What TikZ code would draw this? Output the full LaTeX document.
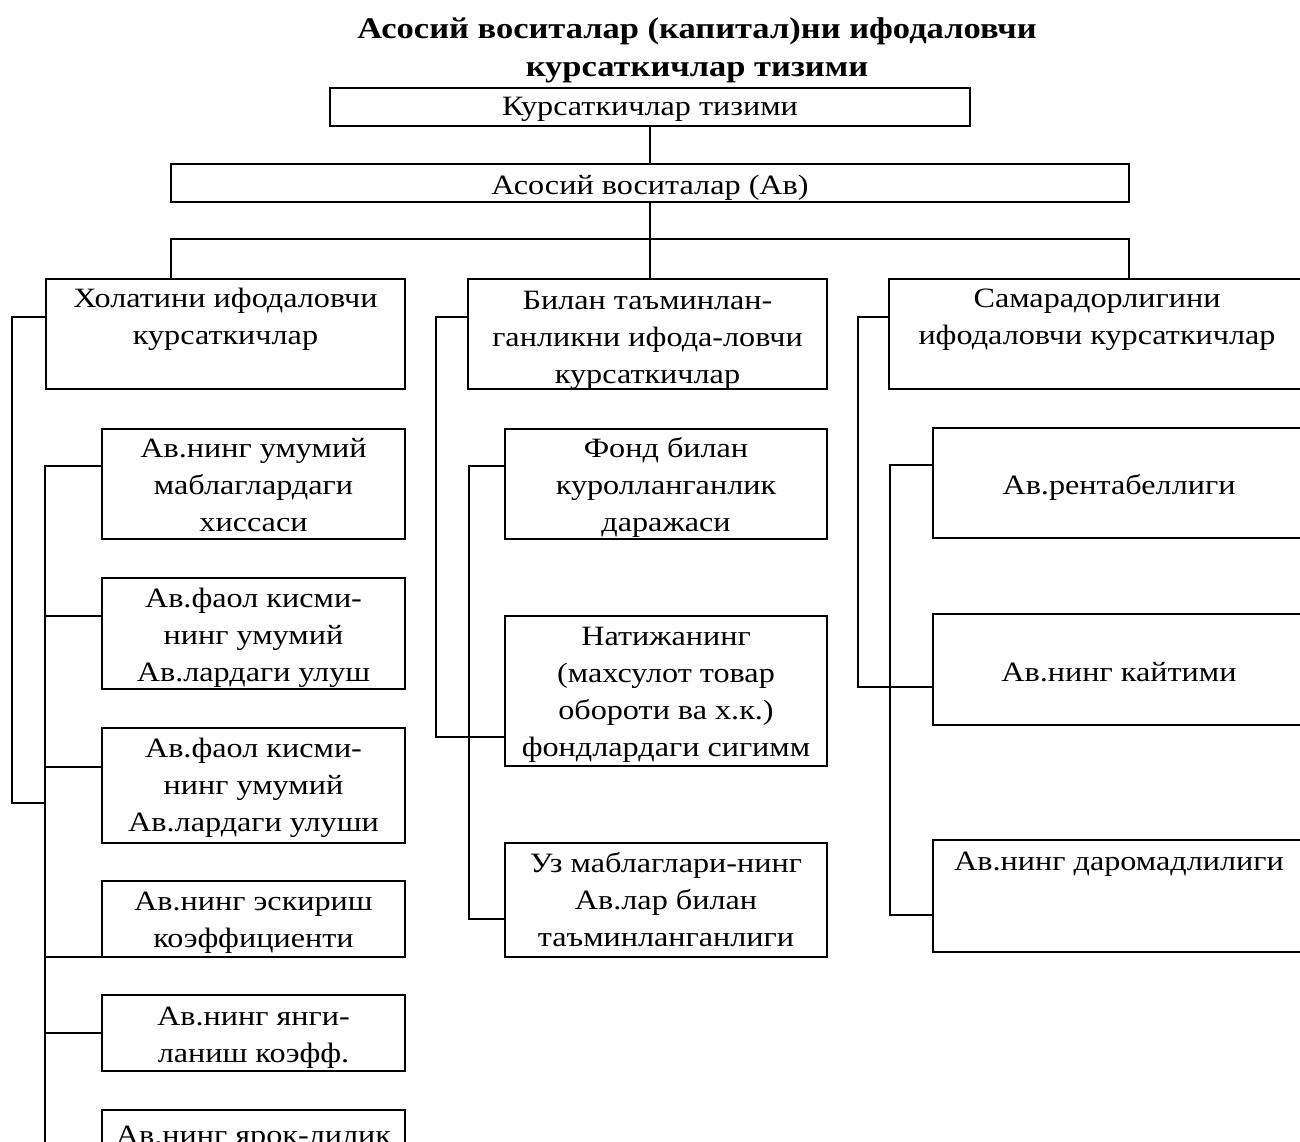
\documentclass[tikz,border=0pt]{standalone}
\usepackage{fontspec}
\setmainfont{Liberation Serif}[FakeStretch=1.15]
\usetikzlibrary{positioning}

\tikzset{
  box/.style={draw, line width=2.5pt, inner sep=0pt, outer sep=0pt, anchor=north west},
  txt/.style={align=center, inner sep=0pt, anchor=base, font=\fontsize{28}{36.7}\selectfont},
  ttl/.style={align=center, inner sep=0pt, anchor=base, font=\bfseries\fontsize{30}{38}\selectfont},
  link/.style={line width=2.5pt}
}

\begin{document}
\begin{tikzpicture}[x=1pt, y=-1pt]
\useasboundingbox (0,0) rectangle (1300,1142);
\clip (0,0) rectangle (1300,1142);

% --- Title (base = last line) ---
\node[ttl] (title) at (697,77) {Асосий воситалар (капитал)ни ифодаловчи\\курсаткичлар тизими};

% --- Top levels ---
\node[box, minimum width=640pt, minimum height=38pt] (sys) at (330,88) {};
\node[txt] (sys-t) at ([yshift=-28pt]sys.north) {Курсаткичлар тизими};
\node[box, minimum width=958pt, minimum height=38pt] (av) at (171,164) {};
\node[txt] (av-t) at ([yshift=-30pt]av.north) {Асосий воситалар (Ав)};

% --- Three groups ---
\node[box, minimum width=359pt, minimum height=110pt] (hol) at (46,279) {};
\node[txt] (hol-t) at ([yshift=-65pt]hol.north) {Холатини ифодаловчи\\курсаткичлар};
\node[box, minimum width=359pt, minimum height=110pt] (bil) at (468,279) {};
\node[txt] (bil-t) at ([yshift=-104pt]bil.north) {Билан таъминлан-\\ганликни ифода-ловчи\\курсаткичлар};
\node[box, minimum width=416pt, minimum height=110pt] (sam) at (889,279) {};
\node[txt] (sam-t) at ([yshift=-65pt]sam.north) {Самарадорлигини\\ифодаловчи курсаткичлар};

% --- Column 1 ---
\node[box, minimum width=303pt, minimum height=110pt] (c1a) at (102,429) {};
\node[txt] (c1a-t) at ([yshift=-102pt]c1a.north) {Ав.нинг умумий\\маблаглардаги\\хиссаси};
\node[box, minimum width=303pt, minimum height=111pt] (c1b) at (102,578) {};
\node[txt] (c1b-t) at ([yshift=-103pt]c1b.north) {Ав.фаол кисми-\\нинг умумий\\Ав.лардаги улуш};
\node[box, minimum width=303pt, minimum height=115pt] (c1c) at (102,728) {};
\node[txt] (c1c-t) at ([yshift=-103pt]c1c.north) {Ав.фаол кисми-\\нинг умумий\\Ав.лардаги улуши};
\node[box, minimum width=303pt, minimum height=76pt] (c1d) at (102,881) {};
\node[txt] (c1d-t) at ([yshift=-66pt]c1d.north) {Ав.нинг эскириш\\коэффициенти};
\node[box, minimum width=303pt, minimum height=76pt] (c1e) at (102,995) {};
\node[txt] (c1e-t) at ([yshift=-67pt]c1e.north) {Ав.нинг янги-\\ланиш коэфф.};
\node[box, minimum width=303pt, minimum height=80pt] (c1f) at (102,1110) {};
\node[txt] (c1f-t) at ([yshift=-34pt]c1f.north) {Ав.нинг ярок-лилик};

% --- Column 2 ---
\node[box, minimum width=322pt, minimum height=110pt] (c2a) at (505,429) {};
\node[txt] (c2a-t) at ([yshift=-102pt]c2a.north) {Фонд билан\\куролланганлик\\даражаси};
\node[box, minimum width=322pt, minimum height=150pt] (c2b) at (505,616) {};
\node[txt] (c2b-t) at ([yshift=-140pt]c2b.north) {Натижанинг\\(махсулот товар\\обороти ва х.к.)\\фондлардаги сигимм};
\node[box, minimum width=322pt, minimum height=114pt] (c2c) at (505,843) {};
\node[txt] (c2c-t) at ([yshift=-103pt]c2c.north) {Уз маблаглари-нинг\\Ав.лар билан\\таъминланганлиги};

% --- Column 3 ---
\node[box, minimum width=372pt, minimum height=110pt] (c3a) at (933,428) {};
\node[txt] (c3a-t) at ([yshift=-66pt]c3a.north) {Ав.рентабеллиги};
\node[box, minimum width=372pt, minimum height=111pt] (c3b) at (933,614) {};
\node[txt] (c3b-t) at ([yshift=-67pt]c3b.north) {Ав.нинг кайтими};
\node[box, minimum width=372pt, minimum height=112pt] (c3c) at (933,840) {};
\node[txt] (c3c-t) at ([yshift=-30pt]c3c.north) {Ав.нинг даромадлилиги};

% --- Tree links ---
\coordinate (bar) at (650,239);
\draw[link] (sys.south) -- (av.north);
\draw[link] (av.south) -- (bar);
\draw[link] (hol.north -| av.west) |- (bar) -| (sam.north -| av.east);
\draw[link] (bar) -- (bar |- bil.north);

% --- Column 1 links ---
\coordinate (c1top) at (12,317);
\coordinate (c1bot) at (12,803);
\coordinate (sp1a) at (45,466);
\coordinate (sp1b) at (45,1160);
\draw[link] (hol.west |- c1top) -- (c1top) -- (c1bot) -- (c1bot -| sp1a);
\draw[link] (c1a.west |- sp1a) -- (sp1a) -- (sp1b);
\foreach \b/\y in {c1b/616, c1c/767, c1d/957, c1e/1033} {
  \coordinate (j) at (45,\y);
  \draw[link] (j) -- (j -| \b.west);
}

% --- Column 2 links ---
\coordinate (c2top) at (436,317);
\coordinate (c2bot) at (436,737);
\coordinate (sp2a) at (469,466);
\coordinate (sp2b) at (469,919);
\draw[link] (bil.west |- c2top) -- (c2top) -- (c2bot) -- (c2bot -| c2b.west);
\draw[link] (c2a.west |- sp2a) -- (sp2a) -- (sp2b) -- (sp2b -| c2c.west);

% --- Column 3 links ---
\coordinate (c3top) at (858,317);
\coordinate (c3bot) at (858,687);
\coordinate (sp3a) at (890,465);
\coordinate (sp3b) at (890,915);
\draw[link] (sam.west |- c3top) -- (c3top) -- (c3bot) -- (c3bot -| c3b.west);
\draw[link] (c3a.west |- sp3a) -- (sp3a) -- (sp3b) -- (sp3b -| c3c.west);

\end{tikzpicture}
\end{document}
